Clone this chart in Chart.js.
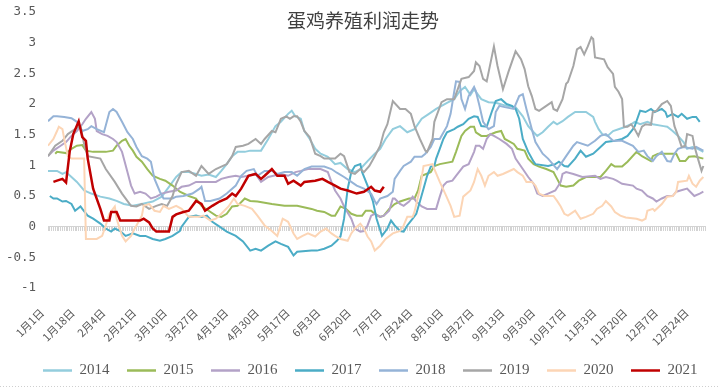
<!DOCTYPE html>
<html>
<head>
<meta charset="utf-8">
<script src="https://cdn.jsdelivr.net/npm/chart.js@4"></script>
<style>
  body { margin: 0; background: #fff; }
  #wrap { position: relative; width: 720px; height: 392px; }
  #title {
    position: absolute; left: 287px; top: 10px;
    font-family: "Noto Sans CJK SC", sans-serif; font-size: 19px; line-height: 20px;
    color: #404040; white-space: nowrap;
  }
  #rule {
    position: absolute; left: 0; top: 386px; width: 720px; height: 1px;
    background: repeating-linear-gradient(to right, #cfcfcf 0 1px, transparent 1px 3px);
  }
</style>
</head>
<body>
<div id="wrap">
  <canvas id="myChart"></canvas>
  <div id="title">蛋鸡养殖利润走势</div>
  <div id="rule"></div>
</div>
<script>
const ctx = document.getElementById('myChart');

const tickLabels = ['1月1日', '1月18日', '2月4日', '2月21日', '3月10日', '3月27日', '4月13日', '4月30日',
    '5月17日', '6月3日', '6月20日', '7月7日', '7月24日', '8月10日', '8月27日', '9月13日', '9月30日',
    '10月17日', '11月3日', '11月20日', '12月7日', '12月24日'];
const years = ['2014', '2015', '2016', '2017', '2018', '2019', '2020', '2021'];
const colors = ['#93cddd', '#9bbb59', '#b3a2c7', '#4bacc6', '#95b3d7', '#a6a6a6', '#fcd5b5', '#c00000'];

// [day of year, profit]
const s2014 = [[0,0.91],[5,0.91],[8,0.86],[10,0.89],[13,0.81],[16,0.73],[20,0.59],[24,0.54],[29,0.49],[34,0.46],
    [38,0.42],[42,0.37],[47,0.34],[52,0.37],[58,0.41],[63,0.49],[67,0.65],[71,0.81],[74,0.89],[78,0.89],
    [82,0.86],[85,0.83],[89,0.85],[93,0.81],[96,0.91],[99,1.02],[102,1.15],[105,1.22],[109,1.22],[112,1.24],
    [118,1.24],[122,1.43],[126,1.64],[129,1.71],[133,1.84],[135,1.89],[137,1.80],[140,1.76],[142,1.56],[145,1.43],
    [148,1.27],[151,1.19],[155,1.14],[159,1.02],[162,1.04],[166,0.94],[170,0.89],[173,0.94],[177,1.07],[181,1.19],
    [184,1.27],[187,1.43],[191,1.59],[195,1.64],[199,1.54],[203,1.59],[207,1.76],[211,1.84],[215,1.92],[221,2.02],
    [225,2.08],[228,2.21],[231,2.28],[234,2.15],[236,2.24],[240,2.08],[244,2.03],[248,2.02],[254,1.97],[259,1.95],
    [263,1.80],[266,1.64],[269,1.54],[271,1.48],[274,1.54],[277,1.63],[280,1.71],[282,1.67],[285,1.72],[288,1.79],
    [292,1.87],[298,1.87],[302,1.79],[303,1.71],[305,1.59],[307,1.51],[310,1.48],[313,1.56],[316,1.59],[320,1.63],
    [323,1.67],[325,1.71],[328,1.67],[332,1.71],[335,1.67],[341,1.64],[343,1.63],[346,1.56],[349,1.48],[352,1.38],
    [354,1.27],[357,1.30],[360,1.27],[363,1.22]];
const s2015 = [[4,1.19],[5,1.22],[10,1.20],[13,1.27],[16,1.32],[19,1.33],[21,1.24],[25,1.22],[32,1.22],[36,1.24],
    [38,1.32],[41,1.40],[43,1.43],[45,1.32],[47,1.24],[49,1.14],[52,1.06],[55,0.94],[58,0.83],[62,0.78],
    [65,0.75],[69,0.67],[73,0.57],[78,0.50],[82,0.46],[85,0.34],[89,0.26],[93,0.18],[96,0.16],[99,0.21],
    [102,0.33],[105,0.34],[109,0.46],[112,0.42],[116,0.41],[124,0.37],[131,0.34],[138,0.34],[146,0.29],[149,0.26],
    [153,0.24],[157,0.18],[159,0.18],[162,0.33],[165,0.29],[168,0.21],[171,0.18],[174,0.18],[176,0.26],[179,0.26],
    [181,0.21],[184,0.16],[186,0.18],[189,0.29],[192,0.37],[195,0.41],[200,0.46],[203,0.46],[205,0.59],[207,0.83],
    [212,0.89],[214,0.99],[217,1.02],[224,1.06],[226,1.22],[229,1.48],[231,1.56],[234,1.63],[236,1.63],[237,1.54],
    [240,1.48],[243,1.48],[248,1.54],[251,1.56],[253,1.43],[255,1.40],[258,1.35],[260,1.27],[264,1.24],[266,1.11],
    [269,1.02],[272,0.98],[276,0.94],[280,0.89],[282,0.78],[284,0.67],[287,0.65],[291,0.67],[294,0.75],[298,0.81],
    [306,0.81],[309,0.91],[312,1.02],[314,0.98],[318,0.98],[321,1.06],[326,1.22],[329,1.15],[334,1.07],[335,1.15],
    [338,1.19],[348,1.19],[350,1.07],[353,1.07],[355,1.14],[358,1.15],[363,1.11]];
const s2016 = [[0,1.15],[3,1.24],[7,1.32],[10,1.38],[13,1.48],[16,1.56],[19,1.67],[21,1.76],[24,1.87],[26,1.76],
    [27,1.56],[30,1.51],[33,1.48],[36,1.43],[38,1.38],[41,1.22],[42,1.11],[44,0.89],[46,0.67],[48,0.54],
    [51,0.57],[54,0.54],[57,0.46],[60,0.49],[63,0.54],[67,0.57],[71,0.59],[74,0.65],[78,0.67],[82,0.73],
    [93,0.73],[96,0.78],[100,0.81],[104,0.83],[107,0.81],[111,0.83],[115,0.86],[118,0.73],[122,0.81],[129,0.86],
    [133,0.83],[137,0.89],[140,0.91],[144,0.94],[151,0.94],[155,0.89],[157,0.73],[159,0.59],[162,0.46],[164,0.33],
    [168,0.13],[170,-0.03],[173,-0.08],[175,-0.07],[177,0.02],[179,0.18],[181,0.21],[184,0.16],[186,0.18],[189,0.26],
    [191,0.46],[192,0.46],[195,0.37],[197,0.34],[200,0.41],[202,0.49],[204,0.41],[207,0.33],[210,0.29],[215,0.29],
    [217,0.49],[219,0.67],[221,0.73],[224,0.75],[226,0.83],[230,0.98],[233,1.02],[236,1.22],[237,1.32],[239,1.32],
    [241,1.27],[243,1.43],[245,1.51],[247,1.48],[250,1.43],[254,1.35],[257,1.27],[259,1.11],[263,0.94],[266,0.81],
    [269,0.70],[271,0.54],[274,0.50],[277,0.54],[281,0.59],[284,0.73],[285,0.86],[287,0.89],[291,0.86],[296,0.81],
    [303,0.83],[306,0.78],[309,0.81],[313,0.78],[315,0.75],[318,0.70],[324,0.67],[326,0.62],[329,0.59],[332,0.50],
    [335,0.46],[337,0.41],[340,0.46],[343,0.50],[346,0.50],[348,0.57],[354,0.62],[355,0.59],[358,0.50],[361,0.54],
    [363,0.57]];
const s2017 = [[1,0.50],[3,0.46],[5,0.46],[8,0.41],[10,0.42],[13,0.37],[15,0.26],[18,0.33],[19,0.29],[22,0.18],
    [25,0.13],[29,0.05],[32,-0.03],[35,-0.08],[37,-0.03],[40,-0.07],[43,-0.15],[47,-0.11],[51,-0.15],[54,-0.15],
    [58,-0.20],[62,-0.23],[65,-0.20],[69,-0.15],[73,-0.07],[74,0.00],[78,0.16],[82,0.18],[85,0.16],[88,0.18],
    [91,0.08],[95,0.00],[99,-0.08],[104,-0.15],[108,-0.24],[112,-0.39],[115,-0.36],[118,-0.39],[122,-0.31],[126,-0.24],
    [129,-0.28],[133,-0.33],[136,-0.47],[138,-0.41],[146,-0.39],[149,-0.39],[153,-0.36],[157,-0.31],[160,-0.23],[162,-0.16],
    [164,0.13],[166,0.62],[168,0.89],[170,0.99],[173,1.02],[174,0.89],[177,0.67],[180,0.41],[182,0.13],[185,-0.15],
    [188,-0.03],[190,0.10],[192,0.02],[195,-0.07],[197,-0.08],[199,0.02],[202,0.13],[204,0.21],[206,0.41],[208,0.62],
    [210,0.83],[212,0.98],[214,0.99],[215,1.11],[217,1.27],[219,1.43],[221,1.54],[225,1.59],[227,1.63],[230,1.67],
    [233,1.76],[236,1.80],[238,1.79],[240,1.64],[243,1.63],[246,1.89],[248,2.05],[251,2.08],[254,2.00],[257,1.97],
    [259,1.92],[261,1.76],[263,1.43],[266,1.22],[269,1.06],[270,1.02],[277,0.99],[281,1.02],[283,1.06],[286,0.99],
    [288,0.98],[292,1.11],[295,1.24],[298,1.14],[302,1.19],[305,1.27],[309,1.38],[314,1.40],[318,1.43],[321,1.48],
    [324,1.59],[325,1.64],[328,1.89],[331,1.87],[334,1.92],[336,1.87],[340,1.92],[342,1.87],[343,1.79],[346,1.84],
    [349,1.79],[351,1.84],[354,1.76],[357,1.79],[359,1.79],[361,1.71]];
const s2018 = [[0,1.72],[3,1.80],[5,1.80],[9,1.79],[13,1.77],[16,1.71],[19,1.56],[22,1.59],[24,1.64],[27,1.59],
    [31,1.54],[34,1.87],[36,1.92],[38,1.87],[41,1.71],[44,1.54],[47,1.43],[49,1.30],[52,1.15],[55,1.11],
    [57,1.06],[59,0.78],[62,0.57],[64,0.46],[69,0.46],[71,0.49],[75,0.50],[80,0.54],[84,0.62],[85,0.65],
    [87,0.42],[90,0.42],[95,0.46],[99,0.54],[104,0.67],[107,0.83],[110,0.91],[114,0.94],[116,0.83],[120,0.91],
    [124,0.91],[127,0.86],[131,0.89],[135,0.89],[138,0.83],[142,0.94],[146,0.98],[153,0.98],[157,0.94],[160,0.88],
    [164,0.81],[168,0.73],[171,0.67],[175,0.62],[179,0.54],[181,0.42],[182,0.37],[184,0.46],[188,0.50],[191,0.57],
    [192,0.78],[195,0.91],[197,0.99],[201,1.06],[203,1.14],[207,1.14],[209,1.19],[212,1.30],[214,1.43],[217,1.43],
    [221,1.64],[223,1.84],[225,2.20],[226,2.37],[228,2.36],[229,2.08],[231,1.92],[233,2.13],[236,2.28],[237,2.21],
    [239,1.97],[241,1.71],[244,1.59],[247,1.64],[248,1.87],[250,1.97],[253,1.95],[258,1.92],[261,2.13],[263,2.16],
    [265,1.92],[268,1.59],[270,1.38],[274,1.19],[277,1.11],[282,0.94],[284,1.02],[287,1.15],[291,1.32],[293,1.38],
    [299,1.32],[303,1.40],[306,1.48],[309,1.51],[313,1.40],[318,1.40],[324,1.32],[327,1.22],[330,1.24],[332,1.15],
    [335,1.07],[337,1.15],[340,1.22],[343,1.07],[345,1.06],[347,1.19],[349,1.27],[352,1.30],[357,1.27],[359,1.30],
    [363,1.24]];
const s2019 = [[0,1.15],[4,1.32],[8,1.40],[11,1.51],[15,1.59],[18,1.64],[20,1.35],[22,1.15],[29,1.11],[32,0.94],
    [37,0.73],[41,0.54],[46,0.34],[49,0.33],[52,0.37],[56,0.29],[60,0.34],[63,0.37],[66,0.34],[69,0.50],
    [71,0.70],[74,0.89],[78,0.91],[82,0.83],[85,0.99],[89,0.86],[93,0.94],[96,0.98],[99,1.02],[102,1.15],
    [104,1.30],[108,1.32],[111,1.35],[115,1.43],[118,1.35],[120,1.43],[124,1.56],[126,1.54],[129,1.76],[132,1.80],
    [134,1.76],[136,1.80],[138,1.80],[140,1.71],[142,1.56],[145,1.46],[148,1.19],[151,1.15],[153,1.11],[159,1.11],
    [162,1.19],[164,1.15],[167,0.89],[170,0.86],[173,0.94],[175,0.89],[178,0.99],[181,1.15],[184,1.32],[186,1.54],
    [188,1.67],[191,2.05],[195,1.92],[198,1.92],[201,1.84],[203,1.64],[206,1.43],[209,1.24],[210,1.22],[213,1.43],
    [214,1.71],[218,2.03],[221,2.08],[225,2.08],[229,2.41],[233,2.44],[236,2.54],[237,2.68],[239,2.62],[241,2.41],
    [243,2.37],[247,2.94],[249,2.62],[252,2.24],[255,2.52],[259,2.86],[262,2.73],[264,2.57],[266,2.29],[268,2.13],
    [270,1.92],[272,1.89],[276,1.97],[279,2.03],[280,1.92],[282,1.89],[285,2.08],[287,2.33],[288,2.36],[291,2.62],
    [293,2.89],[295,2.93],[297,2.81],[299,2.94],[301,3.09],[302,3.06],[303,2.76],[308,2.73],[310,2.60],[313,2.49],
    [314,2.28],[316,2.20],[318,2.08],[319,1.63],[321,1.63],[323,1.67],[325,1.59],[327,1.48],[329,1.63],[331,1.67],
    [334,1.66],[335,1.87],[337,1.89],[340,2.00],[343,2.05],[345,1.97],[347,1.64],[349,1.48],[351,1.30],[353,1.32],
    [354,1.51],[357,1.48],[358,1.32],[360,1.11],[362,0.91],[363,0.99]];
const s2020 = [[0,1.32],[3,1.43],[5,1.56],[6,1.63],[8,1.59],[9,1.43],[11,1.15],[13,1.11],[19,1.11],[20,1.11],
    [21,-0.20],[27,-0.20],[30,-0.15],[32,0.02],[34,0.21],[37,0.33],[38,0.13],[41,-0.15],[43,-0.24],[46,-0.15],
    [48,-0.03],[49,0.02],[52,0.18],[53,0.34],[56,0.37],[59,0.26],[62,0.24],[64,0.34],[67,0.29],[71,0.34],
    [74,0.29],[78,0.16],[84,0.16],[86,0.18],[90,0.10],[93,0.13],[96,0.21],[100,0.33],[103,0.46],[105,0.37],
    [109,0.34],[113,0.29],[116,0.18],[120,0.02],[124,-0.07],[127,-0.15],[130,0.13],[133,0.08],[136,-0.11],[138,-0.20],
    [141,-0.15],[144,-0.11],[148,-0.16],[151,-0.08],[154,-0.03],[157,-0.11],[159,-0.15],[162,-0.20],[166,-0.23],[168,-0.11],
    [170,-0.03],[173,0.05],[175,-0.03],[177,-0.16],[179,-0.24],[181,-0.39],[184,-0.31],[187,-0.20],[191,-0.11],[195,-0.07],
    [197,0.02],[199,0.16],[202,0.16],[203,0.24],[206,0.62],[208,0.99],[213,1.02],[214,0.94],[217,0.73],[220,0.54],
    [223,0.34],[225,0.16],[228,0.18],[230,0.49],[234,0.59],[236,0.73],[238,0.94],[240,0.83],[242,0.67],[244,0.83],
    [247,0.89],[249,0.83],[252,0.86],[258,0.94],[260,0.89],[263,0.83],[265,0.73],[268,0.73],[270,0.67],[272,0.54],
    [275,0.50],[280,0.50],[282,0.42],[284,0.33],[286,0.21],[288,0.18],[292,0.26],[295,0.13],[298,0.16],[302,0.21],
    [304,0.29],[307,0.34],[309,0.42],[312,0.33],[314,0.24],[317,0.18],[320,0.15],[326,0.13],[329,0.10],[331,0.13],
    [332,0.26],[335,0.29],[336,0.26],[340,0.37],[343,0.49],[346,0.50],[348,0.57],[349,0.73],[354,0.75],[355,0.83],
    [357,0.70],[359,0.65],[361,0.75],[363,0.81]];
const s2021 = [[3,0.73],[5,0.75],[8,0.78],[10,0.72],[12,1.22],[14,1.51],[17,1.72],[19,1.46],[21,1.40],[22,1.11],
    [25,0.62],[29,0.29],[31,0.10],[34,0.10],[35,0.24],[38,0.24],[40,0.10],[51,0.10],[53,0.13],[56,0.07],
    [58,-0.03],[60,-0.08],[67,-0.08],[69,0.16],[71,0.20],[75,0.24],[78,0.26],[82,0.42],[85,0.37],[87,0.26],
    [91,0.34],[95,0.41],[99,0.46],[102,0.54],[104,0.50],[107,0.62],[111,0.83],[115,0.86],[118,0.78],[120,0.83],
    [124,0.94],[127,0.83],[131,0.83],[133,0.70],[136,0.75],[140,0.67],[142,0.73],[148,0.75],[152,0.78],[155,0.73],
    [159,0.67],[162,0.62],[166,0.59],[171,0.54],[175,0.57],[179,0.65],[181,0.59],[184,0.57],[186,0.65]];

const series = [s2014, s2015, s2016, s2017, s2018, s2019, s2020, s2021];

// nudge the legend row so it starts where the original one does
const legendShift = {
    id: 'legendShift',
    afterLayout(chart) {
        chart.legend.left += 22.5;
        chart.legend.right += 22.5;
    },
};

new Chart(ctx, {
    type: 'line',
    data: {
        datasets: series.map((s, i) => ({
            label: years[i],
            data: s,
            borderColor: colors[i],
            backgroundColor: colors[i],
            borderWidth: i === 7 ? 2.5 : 2,
            pointRadius: 0,
            pointStyle: 'line',
            tension: 0,
            order: 7 - i,
        })),
    },
    options: {
        responsive: true,
        maintainAspectRatio: false,
        animation: false,
        layout: {
            padding: { top: 0, left: 3, right: 8, bottom: 4 },
        },
        scales: {
            x: {
                type: 'linear',
                min: 0,
                max: 364,
                grid: { display: false, drawTicks: false },
                border: { display: false },
                afterFit: function (scale) { scale.height = 57.5; },
                ticks: {
                    stepSize: 17,
                    includeBounds: false,
                    autoSkip: false,
                    minRotation: 45,
                    maxRotation: 45,
                    padding: 18,
                    labelOffset: -6,
                    color: '#595959',
                    font: { family: '"Noto Sans CJK SC", sans-serif', size: 11 },
                    callback: (v) => tickLabels[Math.round(v / 17)],
                },
            },
            x2: {
                type: 'linear',
                axis: 'x',
                position: { y: 0 },
                min: 0,
                max: 364,
                grid: {
                    drawOnChartArea: false,
                    drawTicks: true,
                    tickLength: 4,
                    color: '#d3d3d3',
                },
                border: { display: true, color: '#d3d3d3', width: 1 },
                ticks: { display: false, stepSize: 1, autoSkip: false, includeBounds: false },
            },
            y: {
                min: -1,
                max: 3.5,
                grid: { display: false, drawTicks: false },
                border: { display: false },
                afterFit: function (scale) { scale.width = 45; },
                ticks: {
                    stepSize: 0.5,
                    padding: 12,
                    color: '#595959',
                    font: { family: '"DejaVu Sans Mono", monospace', size: 12.5, lineHeight: 0.01 },
                    callback: (v) => String(v),
                },
            },
        },
        plugins: {
            title: { display: false },
            tooltip: { enabled: false },
            legend: {
                position: 'bottom',
                align: 'start',
                labels: {
                    usePointStyle: true,
                    pointStyle: 'line',
                    pointStyleWidth: 29,
                    padding: 17.5,
                    color: '#595959',
                    font: { family: '"Liberation Serif", serif', size: 15 },
                    sort: (a, b) => a.datasetIndex - b.datasetIndex,
                    generateLabels: (chart) => Chart.defaults.plugins.legend.labels.generateLabels(chart)
                        .map((l) => Object.assign(l, { lineWidth: 2.5 })),
                },
            },
        },
    },
    plugins: [legendShift],
});
</script>
</body>
</html>
